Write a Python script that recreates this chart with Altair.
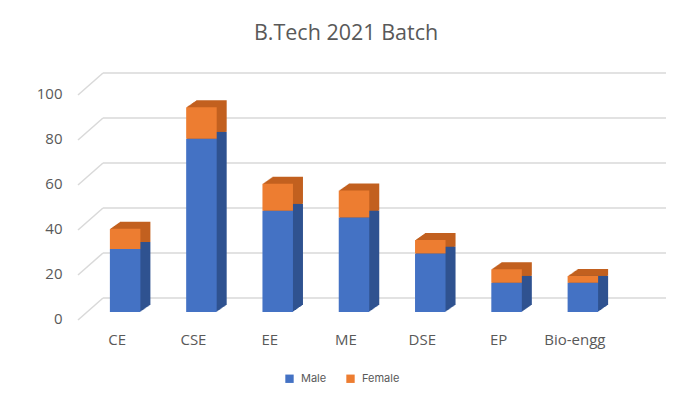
import altair as alt
import pandas as pd

categories = ["CE", "CSE", "EE", "ME", "DSE", "EP", "Bio-engg"]
male = [28, 77, 45, 42, 26, 13, 13]
female = [9, 14, 12, 12, 6, 6, 3]
series = ["Male", "Female"]
grid_values = [0, 20, 40, 60, 80, 100]

rows = []
for c, m, f in zip(categories, male, female):
    rows.append({"cat": c, "series": "Male", "value": m, "ord": 0})
    rows.append({"cat": c, "series": "Female", "value": f, "ord": 1})
df = pd.DataFrame(rows)
gdf = pd.DataFrame({"v": grid_values})

TEXT = "#595959"
GRID = "#D9D9D9"

xenc = alt.X("cat:N", sort=categories, title=None,
             scale=alt.Scale(paddingInner=0.6, paddingOuter=0.3),
             axis=alt.Axis(labelAngle=0, domain=False, ticks=False, labelPadding=20,
                           labelOffset=-8, labelFontSize=15, labelColor=TEXT, labelFont="Open Sans"))
yscale = alt.Scale(domain=[0, 100], nice=False)

grid_h = alt.Chart(gdf).mark_rule(color=GRID, strokeWidth=1.5, yOffset=-14, clip=False).encode(
    y=alt.Y("v:Q", scale=yscale, title=None,
            axis=alt.Axis(domain=False, ticks=False, grid=False, labelPadding=25, labelOffset=6,
                          values=grid_values, labelFontSize=15, labelColor=TEXT, labelFont="Open Sans")),
    x=alt.value(16), x2=alt.value(583))

grid_d = alt.Chart(gdf).mark_rule(color=GRID, strokeWidth=1.5, yOffset=8, y2Offset=-14, clip=False).encode(
    y=alt.Y("v:Q", scale=yscale), y2=alt.Y2("v:Q"),
    x=alt.value(-9), x2=alt.value(16))

# depth layers (staircase approximating the 3D side/top faces)
depth_layers = []
for k in range(1, 11):
    depth_layers.append(
        alt.Chart(df).mark_bar(xOffset=k, yOffset=-0.7 * k).encode(
            x=xenc,
            y=alt.Y("value:Q", stack="zero", scale=yscale),
            color=alt.Color("series:N", scale=alt.Scale(domain=series, range=["#2F5290", "#C2601F"]),
                            legend=None),
            order=alt.Order("ord:Q"))
    )

front = alt.Chart(df).mark_bar().encode(
    x=xenc,
    y=alt.Y("value:Q", stack="zero", scale=yscale),
    color=alt.Color("series:N", scale=alt.Scale(domain=series, range=["#4472C4", "#ED7D31"]),
                    legend=alt.Legend(title=None, orient="none", direction="horizontal",
                                      legendX=197, legendY=286, symbolType="square", symbolSize=70,
                                      symbolStrokeWidth=0, labelFontSize=11, labelColor=TEXT,
                                      labelFont="Inter", columnPadding=18, labelOffset=6, padding=0)),
    order=alt.Order("ord:Q"))

chart = alt.layer(grid_h, grid_d, *depth_layers, front).resolve_scale(color="independent").properties(
    width=534, height=225,
    autosize=alt.AutoSizeParams(type="none"),
    padding={"left": 79, "top": 79, "right": 45, "bottom": 82},
    title=alt.TitleParams("B.Tech 2021 Batch", anchor="middle", dx=-8, offset=28,
                          fontSize=21.5, font="Open Sans", fontWeight="normal", color=TEXT),
).configure_view(stroke=None)

chart.save("out.html", embed_options={"renderer": "svg", "actions": False})
